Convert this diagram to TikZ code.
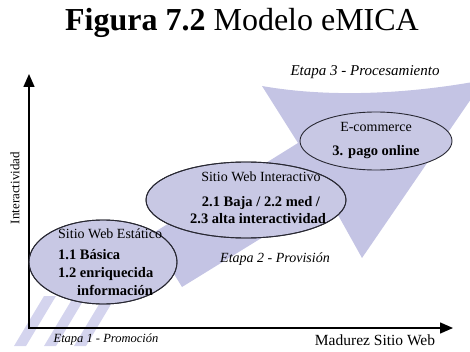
\documentclass[tikz,border=0pt]{standalone}
\usepackage{fontspec}
\setmainfont{Liberation Serif}
\usetikzlibrary{arrows.meta,shapes.geometric}
\definecolor{lav}{RGB}{196,196,228}
\definecolor{lavlight}{RGB}{212,212,238}
\definecolor{ellfill}{RGB}{200,200,228}
\definecolor{edge}{RGB}{40,40,50}
\begin{document}
\begin{tikzpicture}[x=1pt,y=-1pt,
  axis/.style={line width=1.4pt,-{Triangle[length=13pt,width=11pt]}},
  bubble/.style={ellipse,draw=edge,line width=0.9pt,fill=ellfill,inner sep=0pt},
  txt/.style={font=\fontsize{14}{16}\selectfont,inner sep=0pt,anchor=base west},
  btxt/.style={font=\fontsize{14.5}{16}\selectfont\bfseries,inner sep=0pt,anchor=base west},
  stage/.style={font=\fontsize{14}{16}\selectfont\itshape,inner sep=0pt,anchor=base}]
\useasboundingbox (0,0) rectangle (470,352);
\begin{scope}
\clip (0,0) rectangle (470,352);
% big background arrow
\fill[lav] (262,86) .. controls (330,98) and (410,94) .. (484,80)
  -- (362,258) -- (328,197) -- (182,287) -- (150,235) -- (298,143) -- cycle;
% striped tail
\foreach \s in {0,30,60}
  \fill[lavlight] (14+\s,346) -- (26+\s,346) -- (56+\s,296) -- (44+\s,296) -- cycle;
\end{scope}
% title
\node[font=\fontsize{32}{36}\selectfont,inner sep=0pt,anchor=base] (title) at (242,31) {\textbf{Figura 7.2} Modelo eMICA};
% axes
\coordinate (O) at (29,328);
\coordinate (Ytip) at (29,74);
\coordinate (Xtip) at (453,328);
\draw[axis] (O) -- (Ytip);
\draw[axis] ([xshift=-0.7pt]O) -- (Xtip);
\node[font=\fontsize{13}{15}\selectfont,rotate=90,inner sep=0pt] (ylab) at (15,188) {Interactividad};
\node[font=\fontsize{15.5}{17}\selectfont,inner sep=0pt,anchor=base] (xlab) at (375,345) {Madurez Sitio Web};
% ellipses
\node[bubble,minimum width=148pt,minimum height=84pt] (e1) at (103,262) {};
\node[bubble,minimum width=200pt,minimum height=76pt] (e2) at (246,200) {};
\node[bubble,minimum width=152pt,minimum height=58pt] (e3) at (376,141) {};
\draw[edge,line width=0.9pt] (e1.center) ellipse[x radius=74pt,y radius=42pt];
\draw[edge,line width=0.9pt] (e2.center) ellipse[x radius=100pt,y radius=38pt];
% ellipse texts
\node[txt] (t1a) at (58,239) {Sitio Web Estático};
\node[btxt] (t1b) at (58,259) {1.1 Básica};
\node[btxt] (t1c) at (58,277) {1.2 enriquecida};
\node[btxt] (t1d) at (77,295) {información};
\node[txt,anchor=base] (t2a) at (261,182) {Sitio Web Interactivo};
\node[btxt,anchor=base] (t2b) at (261,207) {2.1 Baja / 2.2 med /};
\node[btxt,anchor=base] (t2c) at (258,224) {2.3 alta interactividad};
\node[txt,anchor=base] (t3a) at (376,132) {E-commerce};
\node[btxt,anchor=base] (t3b) at (376,156) {3. pago online};
% stage labels
\node[stage,font=\fontsize{12.5}{14}\selectfont\itshape] (s1) at (106,342) {Etapa 1 - Promoción};
\node[stage] (s2) at (275,262) {Etapa 2 - Provisión};
\node[stage,font=\fontsize{15}{17}\selectfont\itshape] (s3) at (365,76) {Etapa 3 - Procesamiento};
\end{tikzpicture}
\end{document}
